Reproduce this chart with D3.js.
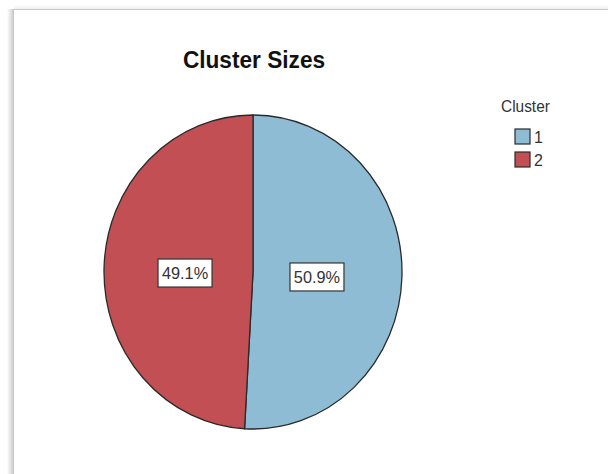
<!DOCTYPE html>
<html>
<head>
<meta charset="utf-8">
<script src="https://cdn.jsdelivr.net/npm/d3@7"></script>
<style>
  html, body { margin: 0; padding: 0; background: #ffffff; }
  svg { display: block; }
</style>
</head>
<body>
<svg id="chart" width="608" height="474"></svg>
<script>
// Cluster membership shares (percent)
const clusters = ["1", "2"];
const shares = [50.9, 49.1];
const clusterColors = ["#8ebcd5", "#c24f53"];
const chartTitle = "Cluster Sizes";
const legendTitle = "Cluster";

const svg = d3.select("#chart");
const font = "Liberation Sans, Arial, sans-serif";
const textStretch = 1.08; // glyphs are drawn slightly taller than wide

// Outer panel with a soft drop shadow on its left and top edges
const defs = svg.append("defs");
const shadowX = defs.append("linearGradient").attr("id", "shadowX")
  .attr("x1", "0").attr("x2", "1").attr("y1", "0").attr("y2", "0");
shadowX.append("stop").attr("offset", "0").attr("stop-color", "#000").attr("stop-opacity", 0);
shadowX.append("stop").attr("offset", "1").attr("stop-color", "#000").attr("stop-opacity", 0.22);
const shadowY = defs.append("linearGradient").attr("id", "shadowY")
  .attr("x1", "0").attr("x2", "0").attr("y1", "0").attr("y2", "1");
shadowY.append("stop").attr("offset", "0").attr("stop-color", "#000").attr("stop-opacity", 0);
shadowY.append("stop").attr("offset", "1").attr("stop-color", "#000").attr("stop-opacity", 0.08);

svg.append("rect").attr("x", 7).attr("y", 9).attr("width", 7).attr("height", 465)
  .attr("fill", "url(#shadowX)");
svg.append("rect").attr("x", 14).attr("y", 5).attr("width", 594).attr("height", 5)
  .attr("fill", "url(#shadowY)");
svg.append("rect").attr("x", 13.5).attr("y", 9.5).attr("width", 600).attr("height", 470)
  .attr("fill", "#ffffff").attr("stroke", "#c8c8c8").attr("stroke-width", 1);

// Title
svg.append("g")
  .attr("transform", `translate(254,68) scale(1.03,${textStretch})`)
  .append("text")
  .attr("text-anchor", "middle")
  .attr("font-family", font)
  .attr("font-weight", "bold")
  .attr("font-size", 22)
  .attr("fill", "#111")
  .text(chartTitle);

// Pie
const cx = 253, cy = 272, r = 149, yStretch = 157 / 149;
const color = d3.scaleOrdinal().domain(clusters).range(clusterColors);
const pie = d3.pie().sort(null).value(d => d.value);
const data = clusters.map((c, i) => ({ cluster: c, value: shares[i] }));
const arcs = pie(data);
const arc = d3.arc().innerRadius(0).outerRadius(r);

const g = svg.append("g")
  .attr("transform", `translate(${cx},${cy}) scale(1,${yStretch})`);
g.selectAll("path.slice")
  .data(arcs)
  .join("path")
  .attr("class", "slice")
  .attr("d", arc)
  .attr("fill", d => color(d.data.cluster))
  .attr("stroke", "#2a2a2a")
  .attr("stroke-width", 1.3)
  .attr("vector-effect", "non-scaling-stroke");

// Percentage labels in boxed callouts
const labelArc = d3.arc().innerRadius(66).outerRadius(66);
const lg = svg.append("g").attr("transform", `translate(${cx - 2},${cy})`);
const labels = lg.selectAll("g.lbl")
  .data(arcs)
  .join("g")
  .attr("class", "lbl")
  .attr("transform", d => {
    const [x, y] = labelArc.centroid(d);
    return `translate(${x},${y * yStretch + 3})`;
  });
labels.append("rect")
  .attr("x", -27).attr("y", -14).attr("width", 54).attr("height", 28)
  .attr("fill", "#ffffff").attr("stroke", "#333").attr("stroke-width", 1.2);
labels.append("text")
  .attr("text-anchor", "middle")
  .attr("transform", `translate(0,6) scale(1.02,${textStretch})`)
  .attr("font-family", font)
  .attr("font-size", 16)
  .attr("fill", "#333")
  .text(d => d3.format(".1f")(d.data.value) + "%");

// Legend
const legend = svg.append("g").attr("transform", "translate(501,112)");
legend.append("text")
  .attr("transform", `scale(1.03,${textStretch})`)
  .attr("font-family", font)
  .attr("font-size", 15)
  .attr("fill", "#333")
  .text(legendTitle);
const items = legend.selectAll("g.item")
  .data(clusters)
  .join("g")
  .attr("class", "item")
  .attr("transform", (d, i) => `translate(14,${17 + i * 23})`);
items.append("rect")
  .attr("width", 15).attr("height", 15)
  .attr("fill", d => color(d))
  .attr("stroke", "#2a2a2a").attr("stroke-width", 1.2);
items.append("text")
  .attr("transform", `translate(19,14) scale(1,${textStretch})`)
  .attr("font-family", font)
  .attr("font-size", 16)
  .attr("fill", "#333")
  .text(d => d);
</script>
</body>
</html>
